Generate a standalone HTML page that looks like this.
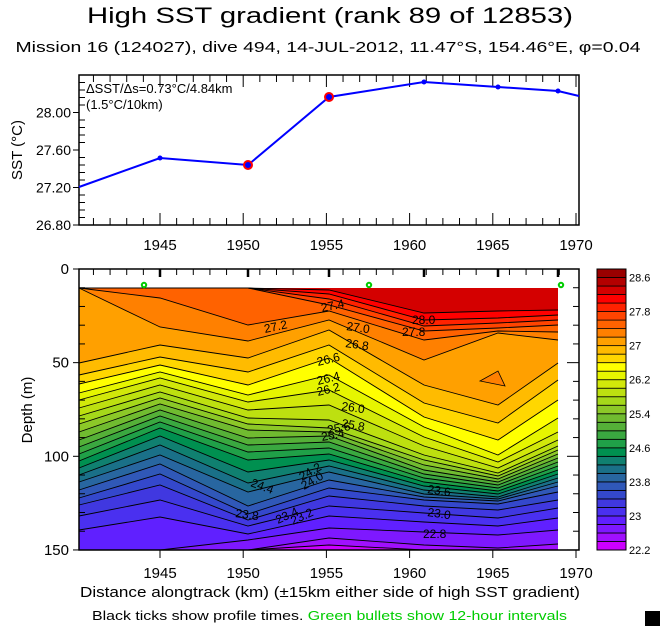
<!DOCTYPE html>
<html><head><meta charset="utf-8"><style>
html,body{margin:0;padding:0;background:#fff;}
svg{display:block;font-family:"Liberation Sans",sans-serif;}
</style></head><body>
<svg id="s" width="660" height="626" viewBox="0 0 660 626" xmlns="http://www.w3.org/2000/svg">
<text x="330" y="23" font-size="22" text-anchor="middle" textLength="486" lengthAdjust="spacingAndGlyphs">High SST gradient (rank 89 of 12853)</text>
<text x="328" y="52" font-size="15" text-anchor="middle" textLength="625" lengthAdjust="spacingAndGlyphs">Mission 16 (124027),  dive 494,  14-JUL-2012,  11.47°S, 154.46°E,  φ=0.04</text>
<g id="topg"></g>
<g id="botg"></g>
<text x="330" y="597" font-size="15" text-anchor="middle" textLength="500" lengthAdjust="spacingAndGlyphs">Distance alongtrack (km) (±15km either side of high SST gradient)</text>
<text x="92" y="620" font-size="13" textLength="475" lengthAdjust="spacingAndGlyphs">Black ticks show profile times. <tspan fill="#00cc00">Green bullets show 12-hour intervals</tspan></text>
<rect x="645" y="611" width="15" height="15" fill="#000"/>
</svg>
<script>
(function(){
var NS="http://www.w3.org/2000/svg";
function el(p,t,a,txt){var e=document.createElementNS(NS,t);for(var k in a)e.setAttribute(k,a[k]);if(txt!=null)e.textContent=txt;p.appendChild(e);return e;}
var tg=document.getElementById('topg'),bot=document.getElementById('botg');
function X(k){return 160+(k-1945)*16.64;}
var L=79,R=579,T=75,B=225;
function Y(v){return 225-(v-26.8)*93.75;}
el(tg,'rect',{x:L,y:T,width:R-L,height:B-T,fill:'none',stroke:'#000','stroke-width':1.5});
for(var i=0;i<=20;i++){var v=26.8+i*0.08;var y=Y(v);if(y<T)break;el(tg,'line',{x1:L,y1:y,x2:L+(i%5==0?0:6),y2:y,stroke:'#000'});}
[[26.8,'26.80'],[27.2,'27.20'],[27.6,'27.60'],[28.0,'28.00']].forEach(function(a){var y=Y(a[0]);el(tg,'line',{x1:L-6,y1:y,x2:L,y2:y,stroke:'#000'});el(tg,'text',{x:L-8,y:y+5,'font-size':14,'text-anchor':'end'},a[1]);});
for(var k=1941;k<=1970;k++){var x=X(k);var mj=(k%5==0);el(tg,'line',{x1:x,y1:T,x2:x,y2:T+(mj?12:7),stroke:'#000'});el(tg,'line',{x1:x,y1:B,x2:x,y2:B-(mj?12:7),stroke:'#000'});if(mj)el(tg,'text',{x:x,y:250,'font-size':15,'text-anchor':'middle'},String(k));}
el(tg,'text',{x:22,y:150,'font-size':15,'text-anchor':'middle',transform:'rotate(-90 22 150)'},'SST (°C)');
el(tg,'text',{x:86,y:93,'font-size':13},'ΔSST/Δs=0.73°C/4.84km');
el(tg,'text',{x:86,y:109,'font-size':13},'(1.5°C/10km)');
var pts=[[79,187],[160,158],[248,165],[329,97],[424,82],[498,87],[558,91],[579,96]];
el(tg,'polyline',{points:pts.map(function(p){return p.join(',')}).join(' '),fill:'none',stroke:'#0000ff','stroke-width':2});
[[248,165],[329,97]].forEach(function(p){el(tg,'circle',{cx:p[0],cy:p[1],r:4,fill:'#0000ff',stroke:'#ff0000','stroke-width':2});});
pts.slice(1,7).forEach(function(p){el(tg,'circle',{cx:p[0],cy:p[1],r:2.5,fill:'#0000ff'});});
var T2=269,B2=550;
var cols=[79,160,248,329,424,498,558];
var cl=['#cc00ff','#a010ff','#7e18ff','#6020ff','#4a30f0','#4038e0','#3448cc','#3058b8','#2866a0','#1a7088','#108070','#009050','#20a048','#3aa840','#55b038','#70bb30','#8cc828','#a5d81a','#bde010','#d2e80a','#e6f500','#ffff00','#ffd700','#ffbb00','#ffa000','#ff8000','#ff6200','#ff4400','#ff2200','#ff0000','#d40000','#b30000','#990000'];
var lv={
'28.2':[288,288,288,290,313,311,310],
'28.0':[288,288,288,294,320,318,315],
'27.8':[288,288,288,299,326,323,320],
'27.6':[288,288,288,305,331,328,325],
'27.4':[288,298,325,311,340,331,332],
'27.2':[288,327,341,320,360,333,340],
'27.0':[363,345,358,330,385,405,363],
'26.8':[375,357,372,345,403,423,380],
'26.6':[384,365,385,358,417,440,400],
'26.4':[393,372,395,375,427,455,418],
'26.2':[400,378,402,390,437,462,432],
'26.0':[408,385,410,405,446,468,440],
'25.8':[416,392,418,420,455,473,446],
'25.6':[424,398,424,428,460,476,450],
'25.4':[432,404,430,432,465,479,454],
'25.2':[440,410,438,436,470,482,458],
'25.0':[447,416,445,442,474,485,462],
'24.8':[454,422,452,448,478,488,466],
'24.6':[461,428,460,454,482,491,470],
'24.4':[468,436,472,460,486,494,474],
'24.2':[475,445,483,466,490,497,478],
'24.0':[482,455,492,472,494,499,482],
'23.8':[490,464,506,480,497,501,486],
'23.6':[498,474,514,488,500,504,492],
'23.4':[505,485,520,496,506,510,500],
'23.2':[516,500,526,506,513,518,508],
'23.0':[530,517,534,516,522,526,518],
'22.8':[550,550,540,528,532,535,530],
'22.6':[550,550,550,538,545,548,544],
'22.4':[550,550,550,545,550,550,550]};
var g=el(bot,'g',{});
el(g,'rect',{x:79,y:288,width:479,height:262,fill:cl[30]});
var keys=Object.keys(lv).sort(function(a,b){return parseFloat(b)-parseFloat(a);});
keys.forEach(function(k){var t=parseFloat(k);var idx=Math.round((t-22.2)/0.2)-1;var ys=lv[k];
var p=cols.map(function(c,i){return c+','+ys[i]}).join(' ')+' 558,550 79,550';
el(g,'polygon',{points:p,fill:cl[idx]});});
el(g,'polygon',{points:'480,381 498,371 505,386',fill:'#ff8000',stroke:'#000','stroke-width':0.8});
keys.forEach(function(k){var ys=lv[k];el(g,'polyline',{points:cols.map(function(c,i){return c+','+ys[i]}).join(' '),fill:'none',stroke:'#000','stroke-width':0.9});});
[['27.4',322,312,-12],['27.2',265,333,-12],['27.0',346,330,8],['26.8',345,347,8],['26.6',318,366,-14],['26.4',318,385,-14],['26.2',318,396,-14],['26.0',341,410,8],['25.8',341,427,10],['25.6',328,434,-10],['25.4',322,441,-10],['24.4',250,486,20],['24.2',302,481,-30],['24.0',304,490,-30],['23.8',235,517,8],['23.4',278,524,-25],['23.2',293,525,-25],['23.6',427,493,8],['23.0',427,516,8],['22.8',423,538,0],['28.0',412,324,0],['27.8',402,336,0]].forEach(function(a){
el(g,'text',{x:a[1],y:a[2],'font-size':12,transform:'rotate('+a[3]+' '+a[1]+' '+a[2]+')',fill:'#000'},a[0]);});
el(bot,'rect',{x:79,y:T2,width:500,height:B2-T2,fill:'none',stroke:'#000','stroke-width':1.5});
for(var d=0;d<=150;d+=10){var y=T2+d*1.873;var mj=(d%50==0);el(bot,'line',{x1:L,y1:y,x2:L+(mj?0:6),y2:y,stroke:'#000'});el(bot,'line',{x1:R,y1:y,x2:R-(mj?12:6),y2:y,stroke:'#000'});
if(mj){el(bot,'line',{x1:L-6,y1:y,x2:L,y2:y,stroke:'#000'});el(bot,'text',{x:L-10,y:y+5,'font-size':15,'text-anchor':'end'},String(d));}}
for(var k=1941;k<=1970;k++){var x=X(k);var mj=(k%5==0);el(bot,'line',{x1:x,y1:T2,x2:x,y2:T2+(mj?0:6),stroke:'#000'});el(bot,'line',{x1:x,y1:B2,x2:x,y2:B2+(mj?8:0),stroke:'#000'});if(mj)el(bot,'text',{x:x,y:578,'font-size':15,'text-anchor':'middle'},String(k));}
[160,248,329,424,498,558].forEach(function(x){el(bot,'line',{x1:x,y1:T2,x2:x,y2:T2+8,stroke:'#000','stroke-width':2.5});});
[[144,285],[369,285],[561,285]].forEach(function(p){el(bot,'circle',{cx:p[0],cy:p[1],r:2.2,fill:'none',stroke:'#00cc00','stroke-width':2});});
el(bot,'text',{x:32,y:410,'font-size':15,'text-anchor':'middle',transform:'rotate(-90 32 410)'},'Depth (m)');
var h=281/33;
for(var i=0;i<33;i++){el(bot,'rect',{x:597,y:550-(i+1)*h,width:29,height:h,fill:cl[i],stroke:'#000','stroke-width':0.8});}
el(bot,'rect',{x:597,y:269,width:29,height:281,fill:'none',stroke:'#000','stroke-width':1});
['22.2','23','23.8','24.6','25.4','26.2','27','27.8','28.6'].forEach(function(s,i){el(bot,'text',{x:629,y:554-i*34.06,'font-size':11},s);});
})();
</script>
</body></html>
